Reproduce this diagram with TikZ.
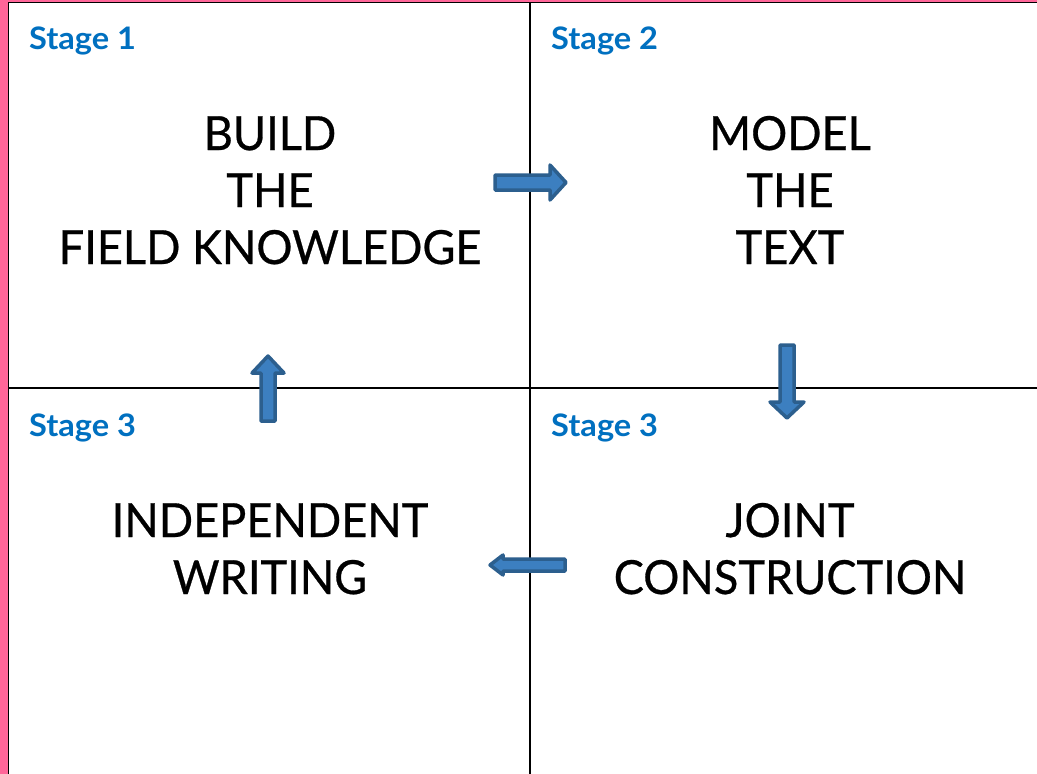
\documentclass[tikz,border=0pt]{standalone}
\usepackage{fontspec}
\setmainfont{Lato}
\newfontfamily\bigfont[FakeStretch=0.96,FakeBold=0.6]{Lato}
\newfontfamily\stagefont[FakeStretch=1.05]{Lato Bold}
\definecolor{pinkedge}{HTML}{FF6699}
\definecolor{stageblue}{HTML}{0070C0}
\definecolor{arrowline}{HTML}{2C5F8E}
\definecolor{arrowfill}{HTML}{3C7FC0}
\tikzset{
  big/.style={font=\bigfont\fontsize{47}{50}\selectfont, text=black, inner sep=0pt, anchor=base},
  stagelbl/.style={font=\stagefont\fontsize{31}{34}\selectfont, text=stageblue, inner sep=0pt, anchor=base west},
  frame/.style={draw=black, line width=1.8pt},
  blockarrow/.style={draw=arrowline, fill=arrowfill, line width=3.5pt, line join=round}
}
\begin{document}
\begin{tikzpicture}[x=1pt,y=-1pt]
\useasboundingbox (0,0) rectangle (1037,774);
\fill[white] (0,0) rectangle (1037,774);
\fill[pinkedge] (0,0) rectangle (7.5,774);
\fill[pinkedge] (0,0) rectangle (1037,1.5);
% frame
\draw[frame] (8,2.5) -- (1037,2.5);
\draw[frame] (8.5,2) -- (8.5,774);
\draw[frame] (530,2) -- (530,774);
\draw[frame] (8,388) -- (1037,388);
% stage labels
\node[stagelbl] (s1) at (29,49) {Stage 1};
\node[stagelbl] (s2) at (551,49) {Stage 2};
\node[stagelbl] (s3l) at (29,436) {Stage 3};
\node[stagelbl] (s3r) at (551,436) {Stage 3};
% texts
\node[big] (b1) at (270,150) {BUILD};
\node[big] (b2) at (270,207) {THE};
\node[big] (b3) at (270,264) {FIELD KNOWLEDGE};
\node[big] (m1) at (790,150) {MODEL};
\node[big] (m2) at (790,207) {THE};
\node[big] (m3) at (790,264) {TEXT};
\node[big] (j1) at (790,537) {JOINT};
\node[big] (j2) at (790,594) {CONSTRUCTION};
\node[big] (i1) at (270,537) {INDEPENDENT};
\node[big] (i2) at (270,594) {WRITING};
% arrows
\draw[blockarrow] (495,175) -- (550,175) -- (550,165) -- (566,182.5) -- (550,200) -- (550,190) -- (495,190) -- cycle;
\draw[blockarrow] (780,345) -- (794,345) -- (794,402) -- (804,402) -- (787,418) -- (770,402) -- (780,402) -- cycle;
\draw[blockarrow] (261,421) -- (275,421) -- (275,373) -- (284,373) -- (268,356) -- (252,373) -- (261,373) -- cycle;
\draw[blockarrow] (565,559) -- (565,571) -- (503,571) -- (503,575) -- (490,565) -- (503,555) -- (503,559) -- cycle;
\end{tikzpicture}
\end{document}
